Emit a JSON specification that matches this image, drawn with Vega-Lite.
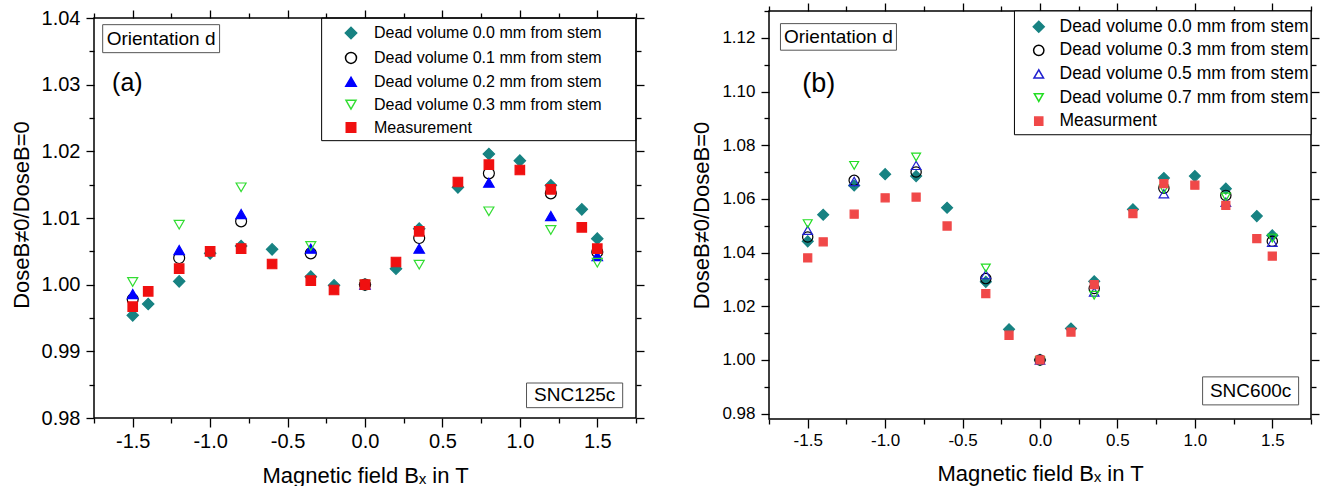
{
  "$schema": "https://vega.github.io/schema/vega-lite/v6.json",
  "background": "white",
  "padding": {"left": 10, "top": 1, "right": 0, "bottom": 0},
  "spacing": 45,
  "resolve": {
    "scale": {"shape": "independent", "fill": "independent", "stroke": "independent", "size": "independent"},
    "legend": {"shape": "independent", "fill": "independent", "stroke": "independent", "size": "independent"}
  },
  "config": {
    "font": "Liberation Sans",
    "view": {"stroke": "black", "strokeWidth": 1.5},
    "axis": {"grid": false, "domain": false, "labelFont": "Liberation Sans", "titleFont": "Liberation Sans", "labelColor": "black", "titleColor": "black", "tickColor": "black", "tickWidth": 1.3, "titleFontWeight": "normal"}
  },
  "datasets": {
    "a": [
      {"B": -1.5, "R": 0.9954, "S": "Dead volume 0.0 mm from stem"},
      {"B": -1.4, "R": 0.9971, "S": "Dead volume 0.0 mm from stem"},
      {"B": -1.2, "R": 1.0005, "S": "Dead volume 0.0 mm from stem"},
      {"B": -1.0, "R": 1.0047, "S": "Dead volume 0.0 mm from stem"},
      {"B": -0.8, "R": 1.0058, "S": "Dead volume 0.0 mm from stem"},
      {"B": -0.6, "R": 1.0053, "S": "Dead volume 0.0 mm from stem"},
      {"B": -0.35, "R": 1.0012, "S": "Dead volume 0.0 mm from stem"},
      {"B": -0.2, "R": 0.9999, "S": "Dead volume 0.0 mm from stem"},
      {"B": 0.0, "R": 1.0, "S": "Dead volume 0.0 mm from stem"},
      {"B": 0.2, "R": 1.0024, "S": "Dead volume 0.0 mm from stem"},
      {"B": 0.35, "R": 1.0084, "S": "Dead volume 0.0 mm from stem"},
      {"B": 0.6, "R": 1.0146, "S": "Dead volume 0.0 mm from stem"},
      {"B": 0.8, "R": 1.0196, "S": "Dead volume 0.0 mm from stem"},
      {"B": 1.0, "R": 1.0186, "S": "Dead volume 0.0 mm from stem"},
      {"B": 1.2, "R": 1.0149, "S": "Dead volume 0.0 mm from stem"},
      {"B": 1.4, "R": 1.0113, "S": "Dead volume 0.0 mm from stem"},
      {"B": 1.5, "R": 1.0069, "S": "Dead volume 0.0 mm from stem"},
      {"B": -1.5, "R": 0.9978, "S": "Dead volume 0.1 mm from stem"},
      {"B": -1.2, "R": 1.004, "S": "Dead volume 0.1 mm from stem"},
      {"B": -0.8, "R": 1.0095, "S": "Dead volume 0.1 mm from stem"},
      {"B": -0.35, "R": 1.0047, "S": "Dead volume 0.1 mm from stem"},
      {"B": 0.0, "R": 1.0, "S": "Dead volume 0.1 mm from stem"},
      {"B": 0.35, "R": 1.007, "S": "Dead volume 0.1 mm from stem"},
      {"B": 0.8, "R": 1.0167, "S": "Dead volume 0.1 mm from stem"},
      {"B": 1.2, "R": 1.0137, "S": "Dead volume 0.1 mm from stem"},
      {"B": 1.5, "R": 1.0049, "S": "Dead volume 0.1 mm from stem"},
      {"B": -1.5, "R": 0.9986, "S": "Dead volume 0.2 mm from stem"},
      {"B": -1.2, "R": 1.0052, "S": "Dead volume 0.2 mm from stem"},
      {"B": -0.8, "R": 1.0106, "S": "Dead volume 0.2 mm from stem"},
      {"B": -0.35, "R": 1.0054, "S": "Dead volume 0.2 mm from stem"},
      {"B": 0.0, "R": 1.0, "S": "Dead volume 0.2 mm from stem"},
      {"B": 0.35, "R": 1.0054, "S": "Dead volume 0.2 mm from stem"},
      {"B": 0.8, "R": 1.0153, "S": "Dead volume 0.2 mm from stem"},
      {"B": 1.2, "R": 1.0103, "S": "Dead volume 0.2 mm from stem"},
      {"B": 1.5, "R": 1.0043, "S": "Dead volume 0.2 mm from stem"},
      {"B": -1.5, "R": 1.0004, "S": "Dead volume 0.3 mm from stem"},
      {"B": -1.2, "R": 1.009, "S": "Dead volume 0.3 mm from stem"},
      {"B": -0.8, "R": 1.0146, "S": "Dead volume 0.3 mm from stem"},
      {"B": -0.35, "R": 1.0058, "S": "Dead volume 0.3 mm from stem"},
      {"B": 0.0, "R": 1.0, "S": "Dead volume 0.3 mm from stem"},
      {"B": 0.35, "R": 1.003, "S": "Dead volume 0.3 mm from stem"},
      {"B": 0.8, "R": 1.011, "S": "Dead volume 0.3 mm from stem"},
      {"B": 1.2, "R": 1.0082, "S": "Dead volume 0.3 mm from stem"},
      {"B": 1.5, "R": 1.0033, "S": "Dead volume 0.3 mm from stem"},
      {"B": -1.5, "R": 0.9967, "S": "Measurement"},
      {"B": -1.4, "R": 0.999, "S": "Measurement"},
      {"B": -1.2, "R": 1.0024, "S": "Measurement"},
      {"B": -1.0, "R": 1.005, "S": "Measurement"},
      {"B": -0.8, "R": 1.0054, "S": "Measurement"},
      {"B": -0.6, "R": 1.0031, "S": "Measurement"},
      {"B": -0.35, "R": 1.0006, "S": "Measurement"},
      {"B": -0.2, "R": 0.9992, "S": "Measurement"},
      {"B": 0.0, "R": 1.0, "S": "Measurement"},
      {"B": 0.2, "R": 1.0034, "S": "Measurement"},
      {"B": 0.35, "R": 1.008, "S": "Measurement"},
      {"B": 0.6, "R": 1.0154, "S": "Measurement"},
      {"B": 0.8, "R": 1.018, "S": "Measurement"},
      {"B": 1.0, "R": 1.0172, "S": "Measurement"},
      {"B": 1.2, "R": 1.0143, "S": "Measurement"},
      {"B": 1.4, "R": 1.0086, "S": "Measurement"},
      {"B": 1.5, "R": 1.0054, "S": "Measurement"}
    ],
    "b": [
      {"B": -1.5, "R": 1.0442, "S": "Dead volume 0.0 mm from stem"},
      {"B": -1.4, "R": 1.0541, "S": "Dead volume 0.0 mm from stem"},
      {"B": -1.2, "R": 1.065, "S": "Dead volume 0.0 mm from stem"},
      {"B": -1.0, "R": 1.0692, "S": "Dead volume 0.0 mm from stem"},
      {"B": -0.8, "R": 1.0685, "S": "Dead volume 0.0 mm from stem"},
      {"B": -0.6, "R": 1.0567, "S": "Dead volume 0.0 mm from stem"},
      {"B": -0.35, "R": 1.0291, "S": "Dead volume 0.0 mm from stem"},
      {"B": -0.2, "R": 1.0114, "S": "Dead volume 0.0 mm from stem"},
      {"B": 0.0, "R": 1.0, "S": "Dead volume 0.0 mm from stem"},
      {"B": 0.2, "R": 1.0117, "S": "Dead volume 0.0 mm from stem"},
      {"B": 0.35, "R": 1.0293, "S": "Dead volume 0.0 mm from stem"},
      {"B": 0.6, "R": 1.0561, "S": "Dead volume 0.0 mm from stem"},
      {"B": 0.8, "R": 1.0678, "S": "Dead volume 0.0 mm from stem"},
      {"B": 1.0, "R": 1.0685, "S": "Dead volume 0.0 mm from stem"},
      {"B": 1.2, "R": 1.0638, "S": "Dead volume 0.0 mm from stem"},
      {"B": 1.4, "R": 1.0536, "S": "Dead volume 0.0 mm from stem"},
      {"B": 1.5, "R": 1.0464, "S": "Dead volume 0.0 mm from stem"},
      {"B": -1.5, "R": 1.0458, "S": "Dead volume 0.3 mm from stem"},
      {"B": -1.2, "R": 1.0669, "S": "Dead volume 0.3 mm from stem"},
      {"B": -0.8, "R": 1.07, "S": "Dead volume 0.3 mm from stem"},
      {"B": -0.35, "R": 1.0303, "S": "Dead volume 0.3 mm from stem"},
      {"B": 0.0, "R": 1.0, "S": "Dead volume 0.3 mm from stem"},
      {"B": 0.35, "R": 1.0266, "S": "Dead volume 0.3 mm from stem"},
      {"B": 0.8, "R": 1.064, "S": "Dead volume 0.3 mm from stem"},
      {"B": 1.2, "R": 1.0613, "S": "Dead volume 0.3 mm from stem"},
      {"B": 1.5, "R": 1.0442, "S": "Dead volume 0.3 mm from stem"},
      {"B": -1.5, "R": 1.0483, "S": "Dead volume 0.5 mm from stem"},
      {"B": -1.2, "R": 1.0665, "S": "Dead volume 0.5 mm from stem"},
      {"B": -0.8, "R": 1.0725, "S": "Dead volume 0.5 mm from stem"},
      {"B": -0.35, "R": 1.0318, "S": "Dead volume 0.5 mm from stem"},
      {"B": 0.0, "R": 1.0, "S": "Dead volume 0.5 mm from stem"},
      {"B": 0.35, "R": 1.0253, "S": "Dead volume 0.5 mm from stem"},
      {"B": 0.8, "R": 1.0619, "S": "Dead volume 0.5 mm from stem"},
      {"B": 1.2, "R": 1.0588, "S": "Dead volume 0.5 mm from stem"},
      {"B": 1.5, "R": 1.0439, "S": "Dead volume 0.5 mm from stem"},
      {"B": -1.5, "R": 1.0508, "S": "Dead volume 0.7 mm from stem"},
      {"B": -1.2, "R": 1.0725, "S": "Dead volume 0.7 mm from stem"},
      {"B": -0.8, "R": 1.0756, "S": "Dead volume 0.7 mm from stem"},
      {"B": -0.35, "R": 1.0343, "S": "Dead volume 0.7 mm from stem"},
      {"B": 0.0, "R": 0.9998, "S": "Dead volume 0.7 mm from stem"},
      {"B": 0.35, "R": 1.0241, "S": "Dead volume 0.7 mm from stem"},
      {"B": 0.8, "R": 1.0636, "S": "Dead volume 0.7 mm from stem"},
      {"B": 1.2, "R": 1.0607, "S": "Dead volume 0.7 mm from stem"},
      {"B": 1.5, "R": 1.0454, "S": "Dead volume 0.7 mm from stem"},
      {"B": -1.5, "R": 1.038, "S": "Measurment"},
      {"B": -1.4, "R": 1.044, "S": "Measurment"},
      {"B": -1.2, "R": 1.0543, "S": "Measurment"},
      {"B": -1.0, "R": 1.0604, "S": "Measurment"},
      {"B": -0.8, "R": 1.0607, "S": "Measurment"},
      {"B": -0.6, "R": 1.0499, "S": "Measurment"},
      {"B": -0.35, "R": 1.0247, "S": "Measurment"},
      {"B": -0.2, "R": 1.0092, "S": "Measurment"},
      {"B": 0.0, "R": 1.0, "S": "Measurment"},
      {"B": 0.2, "R": 1.0104, "S": "Measurment"},
      {"B": 0.35, "R": 1.0281, "S": "Measurment"},
      {"B": 0.6, "R": 1.0545, "S": "Measurment"},
      {"B": 0.8, "R": 1.0657, "S": "Measurment"},
      {"B": 1.0, "R": 1.0651, "S": "Measurment"},
      {"B": 1.2, "R": 1.0576, "S": "Measurment"},
      {"B": 1.4, "R": 1.0452, "S": "Measurment"},
      {"B": 1.5, "R": 1.0387, "S": "Measurment"}
    ]
  },
  "hconcat": [
    {
      "width": 542,
      "height": 407,
      "view": {"stroke": null},
      "resolve": {"axis": {"x": "independent", "y": "independent"}},
      "layer": [
        {
          "data": {"values": [{}]},
          "mark": {"type": "rect", "fill": "white", "stroke": "black", "strokeWidth": 1},
          "encoding": {
            "x": {"datum": -0.28, "type": "quantitative", "axis": null},
            "x2": {"datum": 1.75},
            "y": {"datum": 1.0216, "type": "quantitative", "axis": null},
            "y2": {"datum": 1.04}
          }
        },
        {
          "data": {"values": [{}]},
          "mark": {"type": "rect", "fill": "white", "stroke": "#555", "strokeWidth": 1},
          "encoding": {
            "x": {"datum": -1.694, "type": "quantitative", "axis": null},
            "x2": {"datum": -0.939},
            "y": {"datum": 1.0348, "type": "quantitative", "axis": null},
            "y2": {"datum": 1.039}
          }
        },
        {
          "data": {"values": [{}]},
          "mark": {"type": "rect", "fill": "white", "stroke": "#555", "strokeWidth": 1},
          "encoding": {
            "x": {"datum": 1.043, "type": "quantitative", "axis": null},
            "x2": {"datum": 1.664},
            "y": {"datum": 0.98155, "type": "quantitative", "axis": null},
            "y2": {"datum": 0.98525}
          }
        },
        {
          "data": {"values": [{}]},
          "mark": {"type": "text", "text": "Orientation d", "fontSize": 19, "align": "center", "baseline": "middle", "color": "black"},
          "encoding": {
            "x": {"datum": -1.317, "type": "quantitative", "axis": null},
            "y": {"datum": 1.0369, "type": "quantitative", "axis": null}
          }
        },
        {
          "data": {"values": [{}]},
          "mark": {"type": "text", "text": "(a)", "fontSize": 25, "align": "left", "baseline": "middle", "color": "black"},
          "encoding": {
            "x": {"datum": -1.633, "type": "quantitative", "axis": null},
            "y": {"datum": 1.0302, "type": "quantitative", "axis": null}
          }
        },
        {
          "data": {"values": [{}]},
          "mark": {"type": "text", "text": "SNC125c", "fontSize": 19, "align": "center", "baseline": "middle", "color": "black"},
          "encoding": {
            "x": {"datum": 1.354, "type": "quantitative", "axis": null},
            "y": {"datum": 0.98338, "type": "quantitative", "axis": null}
          }
        },
        {
          "data": {"name": "a"},
          "mark": {"type": "point", "opacity": 0},
          "encoding": {
            "x": {"field": "B", "type": "quantitative", "axis": {"orient": "bottom", "values": [-1.75, -1.25, -0.75, -0.25, 0.25, 0.75, 1.25, 1.75], "labels": false, "tickSize": 5, "title": null}},
            "y": {"field": "R", "type": "quantitative", "axis": {"orient": "left", "values": [0.985, 0.995, 1.005, 1.015, 1.025, 1.035], "labels": false, "tickSize": 5, "title": null}}
          }
        },
        {
          "data": {"name": "a"},
          "mark": {"type": "point", "opacity": 0},
          "encoding": {
            "x": {"field": "B", "type": "quantitative", "axis": {"orient": "top", "offset": -7, "values": [-1.5, -1, -0.5, 0, 0.5, 1, 1.5], "labels": false, "tickSize": 8, "title": null}},
            "y": {"field": "R", "type": "quantitative", "axis": {"orient": "right", "values": [0.98, 0.99, 1.0, 1.01, 1.02, 1.03, 1.04], "labels": false, "tickSize": 8, "title": null}}
          }
        },
        {
          "data": {"name": "a"},
          "mark": {"type": "point", "opacity": 0},
          "encoding": {
            "x": {"field": "B", "type": "quantitative", "axis": {"orient": "top", "offset": -7, "values": [-1.75, -1.25, -0.75, -0.25, 0.25, 0.75, 1.25, 1.75], "labels": false, "tickSize": 5, "title": null}},
            "y": {"field": "R", "type": "quantitative", "axis": {"orient": "right", "values": [0.985, 0.995, 1.005, 1.015, 1.025, 1.035], "labels": false, "tickSize": 5, "title": null}}
          }
        },
        {
          "data": {"name": "a"},
          "mark": {"type": "point", "opacity": 1, "strokeWidth": 1.2},
          "encoding": {
            "x": {"field": "B", "type": "quantitative", "scale": {"domain": [-1.75, 1.75], "nice": false, "zero": false},
              "axis": {"orient": "bottom", "values": [-1.5, -1, -0.5, 0, 0.5, 1, 1.5], "format": ".1f", "labelExpr": "replace(datum.label, '\u2212', '-')", "title": "Magnetic field Bₓ in T", "tickSize": 9, "labelPadding": 4, "labelFontSize": 20, "titleFontSize": 22, "titlePadding": 14}},
            "y": {"field": "R", "type": "quantitative", "scale": {"domain": [0.98, 1.04105], "nice": false, "zero": false},
              "axis": {"orient": "left", "values": [0.98, 0.99, 1.0, 1.01, 1.02, 1.03, 1.04], "format": ".2f", "title": "DoseB≠0/DoseB=0", "tickSize": 8, "labelPadding": 6, "labelFontSize": 20, "titleFontSize": 22, "titlePadding": 8}},
            "shape": {"field": "S", "type": "nominal",
              "scale": {"domain": ["Dead volume 0.0 mm from stem", "Dead volume 0.1 mm from stem", "Dead volume 0.2 mm from stem", "Dead volume 0.3 mm from stem", "Measurement"], "range": ["diamond", "circle", "triangle-up", "triangle-down", "square"]},
              "legend": {"orient": "none", "legendX": 229, "legendY": 7, "title": null, "labelFontSize": 16, "labelFont": "Liberation Sans", "labelColor": "black", "padding": 7, "rowPadding": 6.9, "symbolOffset": 13, "labelOffset": 15, "labelLimit": 400}},
            "fill": {"field": "S", "type": "nominal",
              "scale": {"domain": ["Dead volume 0.0 mm from stem", "Dead volume 0.1 mm from stem", "Dead volume 0.2 mm from stem", "Dead volume 0.3 mm from stem", "Measurement"], "range": ["#178282", "transparent", "#0000FF", "transparent", "#F01010"]}},
            "stroke": {"field": "S", "type": "nominal",
              "scale": {"domain": ["Dead volume 0.0 mm from stem", "Dead volume 0.1 mm from stem", "Dead volume 0.2 mm from stem", "Dead volume 0.3 mm from stem", "Measurement"], "range": ["#178282", "#000000", "#0000FF", "#33DD33", "#F01010"]}},
            "size": {"field": "S", "type": "nominal",
              "scale": {"domain": ["Dead volume 0.0 mm from stem", "Dead volume 0.1 mm from stem", "Dead volume 0.2 mm from stem", "Dead volume 0.3 mm from stem", "Measurement"], "range": [130, 90, 120, 120, 100]}}
          }
        },
        {
          "data": {"values": [{}]},
          "mark": {"type": "rect", "filled": false, "stroke": "black", "strokeWidth": 1.5},
          "encoding": {
            "x": {"datum": -1.75, "type": "quantitative", "axis": null},
            "x2": {"datum": 1.75},
            "y": {"datum": 0.98, "type": "quantitative", "axis": null},
            "y2": {"datum": 1.04}
          }
        }
      ]
    },
    {
      "width": 542,
      "height": 408,
      "resolve": {"axis": {"x": "independent", "y": "independent"}},
      "layer": [
        {
          "data": {"values": [{}]},
          "mark": {"type": "rect", "fill": "white", "stroke": "black", "strokeWidth": 1},
          "encoding": {
            "x": {"datum": -0.165, "type": "quantitative", "axis": null},
            "x2": {"datum": 1.75},
            "y": {"datum": 1.0839, "type": "quantitative", "axis": null},
            "y2": {"datum": 1.13}
          }
        },
        {
          "data": {"values": [{}]},
          "mark": {"type": "rect", "fill": "white", "stroke": "#555", "strokeWidth": 1},
          "encoding": {
            "x": {"datum": -1.676, "type": "quantitative", "axis": null},
            "x2": {"datum": -0.927},
            "y": {"datum": 1.1154, "type": "quantitative", "axis": null},
            "y2": {"datum": 1.1253}
          }
        },
        {
          "data": {"values": [{}]},
          "mark": {"type": "rect", "fill": "white", "stroke": "#555", "strokeWidth": 1},
          "encoding": {
            "x": {"datum": 1.05, "type": "quantitative", "axis": null},
            "x2": {"datum": 1.67},
            "y": {"datum": 0.98326, "type": "quantitative", "axis": null},
            "y2": {"datum": 0.99369}
          }
        },
        {
          "data": {"values": [{}]},
          "mark": {"type": "text", "text": "Orientation d", "fontSize": 19, "align": "center", "baseline": "middle", "color": "black"},
          "encoding": {
            "x": {"datum": -1.302, "type": "quantitative", "axis": null},
            "y": {"datum": 1.1203, "type": "quantitative", "axis": null}
          }
        },
        {
          "data": {"values": [{}]},
          "mark": {"type": "text", "text": "(b)", "fontSize": 27, "align": "left", "baseline": "middle", "color": "black"},
          "encoding": {
            "x": {"datum": -1.536, "type": "quantitative", "axis": null},
            "y": {"datum": 1.1029, "type": "quantitative", "axis": null}
          }
        },
        {
          "data": {"values": [{}]},
          "mark": {"type": "text", "text": "SNC600c", "fontSize": 19, "align": "center", "baseline": "middle", "color": "black"},
          "encoding": {
            "x": {"datum": 1.36, "type": "quantitative", "axis": null},
            "y": {"datum": 0.98847, "type": "quantitative", "axis": null}
          }
        },
        {
          "data": {"name": "b"},
          "mark": {"type": "point", "opacity": 0},
          "encoding": {
            "x": {"field": "B", "type": "quantitative", "axis": {"orient": "bottom", "values": [-1.75, -1.25, -0.75, -0.25, 0.25, 0.75, 1.25, 1.75], "labels": false, "tickSize": 5, "title": null}},
            "y": {"field": "R", "type": "quantitative", "axis": {"orient": "left", "values": [0.99, 1.01, 1.03, 1.05, 1.07, 1.09, 1.11, 1.13], "labels": false, "tickSize": 5, "title": null}}
          }
        },
        {
          "data": {"name": "b"},
          "mark": {"type": "point", "opacity": 0},
          "encoding": {
            "x": {"field": "B", "type": "quantitative", "axis": {"orient": "top", "values": [-1.5, -1, -0.5, 0, 0.5, 1, 1.5], "labels": false, "tickSize": 8, "title": null}},
            "y": {"field": "R", "type": "quantitative", "axis": {"orient": "right", "values": [0.98, 1.0, 1.02, 1.04, 1.06, 1.08, 1.1, 1.12], "labels": false, "tickSize": 8, "title": null}}
          }
        },
        {
          "data": {"name": "b"},
          "mark": {"type": "point", "opacity": 0},
          "encoding": {
            "x": {"field": "B", "type": "quantitative", "axis": {"orient": "top", "values": [-1.75, -1.25, -0.75, -0.25, 0.25, 0.75, 1.25, 1.75], "labels": false, "tickSize": 5, "title": null}},
            "y": {"field": "R", "type": "quantitative", "axis": {"orient": "right", "values": [0.99, 1.01, 1.03, 1.05, 1.07, 1.09, 1.11], "labels": false, "tickSize": 5, "title": null}}
          }
        },
        {
          "data": {"name": "b"},
          "mark": {"type": "point", "opacity": 1, "strokeWidth": 1.2},
          "encoding": {
            "x": {"field": "B", "type": "quantitative", "scale": {"domain": [-1.75, 1.75], "nice": false, "zero": false},
              "axis": {"orient": "bottom", "values": [-1.5, -1, -0.5, 0, 0.5, 1, 1.5], "format": ".1f", "labelExpr": "replace(datum.label, '\u2212', '-')", "title": "Magnetic field Bₓ in T", "tickSize": 9, "labelPadding": 4, "labelFontSize": 17, "titleFontSize": 22, "titlePadding": 15}},
            "y": {"field": "R", "type": "quantitative", "scale": {"domain": [0.978, 1.13], "nice": false, "zero": false},
              "axis": {"orient": "left", "values": [0.98, 1.0, 1.02, 1.04, 1.06, 1.08, 1.1, 1.12], "format": ".2f", "title": "DoseB≠0/DoseB=0", "tickSize": 8, "labelPadding": 6, "labelFontSize": 17, "titleFontSize": 22, "titlePadding": 8}},
            "shape": {"field": "S", "type": "nominal",
              "scale": {"domain": ["Dead volume 0.0 mm from stem", "Dead volume 0.3 mm from stem", "Dead volume 0.5 mm from stem", "Dead volume 0.7 mm from stem", "Measurment"], "range": ["diamond", "circle", "triangle-up", "triangle-down", "square"]},
              "legend": {"orient": "none", "legendX": 246, "legendY": 0, "title": null, "labelFontSize": 17.5, "labelFont": "Liberation Sans", "labelColor": "black", "padding": 7, "rowPadding": 4.6, "symbolOffset": 8, "labelOffset": 12, "labelLimit": 400}},
            "fill": {"field": "S", "type": "nominal",
              "scale": {"domain": ["Dead volume 0.0 mm from stem", "Dead volume 0.3 mm from stem", "Dead volume 0.5 mm from stem", "Dead volume 0.7 mm from stem", "Measurment"], "range": ["#178282", "transparent", "transparent", "transparent", "#F04848"]}},
            "stroke": {"field": "S", "type": "nominal",
              "scale": {"domain": ["Dead volume 0.0 mm from stem", "Dead volume 0.3 mm from stem", "Dead volume 0.5 mm from stem", "Dead volume 0.7 mm from stem", "Measurment"], "range": ["#178282", "#000000", "#2020D0", "#22DD22", "#F04848"]}},
            "size": {"field": "S", "type": "nominal",
              "scale": {"domain": ["Dead volume 0.0 mm from stem", "Dead volume 0.3 mm from stem", "Dead volume 0.5 mm from stem", "Dead volume 0.7 mm from stem", "Measurment"], "range": [120, 65, 90, 95, 85]}}
          }
        }
      ]
    }
  ]
}
